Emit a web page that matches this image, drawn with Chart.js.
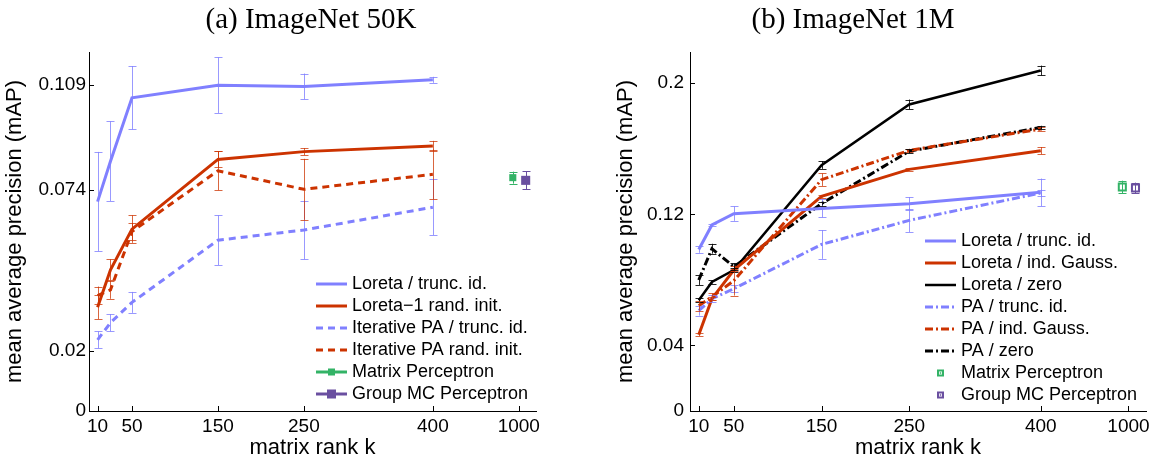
<!DOCTYPE html>
<html><head><meta charset="utf-8">
<script src="https://cdn.jsdelivr.net/npm/chart.js@4/dist/chart.umd.min.js"></script>
<style>
html,body{margin:0;padding:0;background:#fff;}
#wrap{position:relative;width:1154px;height:454px;overflow:hidden;background:#fff;}
canvas{position:absolute;top:0;}
</style></head><body>
<div id="wrap">
<canvas id="c1" width="577" height="454" style="left:0"></canvas>
<canvas id="c2" width="577" height="454" style="left:577px"></canvas>
</div>
<script>
// ---------- shared axis data ----------
const ranks = [10, 25, 50, 150, 250, 400];
const perceptronRank = 1000;
const xTickValues = [10, 50, 150, 250, 400, 1000];
const xTickLabels = ['10', '50', '150', '250', '400', '1000'];

// ---------- (a) ImageNet 50K ----------
const a_yTicks = [0, 0.02, 0.074, 0.109];
const a_yTickLabels = ['0', '0.02', '0.074', '0.109'];
const a_loretaTrunc     = [0.0700, 0.0835, 0.1047, 0.1089, 0.1085, 0.1107];
const a_loretaTruncErr  = [0.0166, 0.0133, 0.0106, 0.0093, 0.0043, 0.0010];
const a_loreta1Rand     = [0.0347, 0.0472, 0.0608, 0.0841, 0.0867, 0.0886];
const a_loreta1RandErr  = [0.0040, 0.0035, 0.0046, 0.0027, 0.0012, 0.0017];
const a_iterPATrunc     = [0.0238, 0.0295, 0.0363, 0.0571, 0.0605, 0.0681];
const a_iterPATruncErr  = [0.0028, 0.0029, 0.0035, 0.0083, 0.0098, 0.0093];
const a_iterPARand      = [0.0386, 0.0405, 0.0600, 0.0803, 0.0741, 0.0791];
const a_iterPARandErr   = [0.0030, 0.0030, 0.0028, 0.0065, 0.0102, 0.0083];
const a_matrixPerc = 0.0780, a_matrixPercErr = 0.0020;
const a_groupPerc  = 0.0771, a_groupPercErr  = 0.0030;

// ---------- (b) ImageNet 1M ----------
const b_yTicks = [0, 0.04, 0.12, 0.2];
const b_yTickLabels = ['0', '0.04', '0.12', '0.2'];
const b_loretaTrunc    = [0.0985, 0.1135, 0.1204, 0.1236, 0.1265, 0.1334];
const b_loretaTruncErr = [0.0020, 0.0008, 0.0044, 0.0055, 0.0040, 0.0084];
const b_loretaGauss    = [0.0465, 0.0685, 0.0860, 0.1309, 0.1474, 0.1588];
const b_loretaGaussErr = [0.0008, 0.0008, 0.0008, 0.0008, 0.0008, 0.0022];
const b_loretaZero     = [0.0675, 0.0787, 0.0860, 0.1500, 0.1870, 0.2077];
const b_loretaZeroErr  = [0.0012, 0.0010, 0.0010, 0.0023, 0.0030, 0.0030];
const b_paTrunc        = [0.0612, 0.0685, 0.0746, 0.1016, 0.1163, 0.1330];
const b_paTruncErr     = [0.0030, 0.0020, 0.0020, 0.0088, 0.0071, 0.0020];
const b_paGauss        = [0.0642, 0.0697, 0.0795, 0.1411, 0.1590, 0.1720];
const b_paGaussErr     = [0.0030, 0.0020, 0.0091, 0.0038, 0.0010, 0.0010];
const b_paZero         = [0.0799, 0.0990, 0.0880, 0.1265, 0.1585, 0.1730];
const b_paZeroErr      = [0.0030, 0.0030, 0.0020, 0.0012, 0.0012, 0.0010];
const b_matrixPerc = 0.1366, b_matrixPercErr = 0.0039;
const b_groupPerc  = 0.1360, b_groupPercErr  = 0.0033;

// ---------- styling / helpers ----------
const SANS = '"Liberation Sans", Arial, Helvetica, sans-serif';
const SERIF = '"Liberation Serif", "Times New Roman", serif';
const BLUE = '#8080ff', RED = '#cc3300', BLACK = '#000000', GREEN = '#33b366', PURPLE = '#6a4fa0';
const BLUE_ERR = 'rgba(128,128,255,0.8)', RED_ERR = 'rgba(204,51,0,0.75)', BLACK_ERR = 'rgba(0,0,0,0.85)';

// the x axis is broken after 400: rank 1000 is drawn at axis position 500
function axisPos(k) { return k <= 400 ? k : 500; }

function series(label, values, errs, style) {
  return Object.assign({
    label, data: ranks.map((k, i) => ({x: axisPos(k), y: values[i]})),
    errors: errs, pointRadius: 0, pointHoverRadius: 0, tension: 0, fill: false
  }, style);
}
function single(label, value, err, dodge, style) {
  return Object.assign({
    label, data: [{x: axisPos(perceptronRank) + dodge, y: value}],
    errors: [err], showLine: false, tension: 0, fill: false
  }, style);
}

const errorBarPlugin = {
  id: 'errorBars',
  afterDatasetsDraw(chart) {
    const ctx = chart.ctx, xs = chart.scales.x, ys = chart.scales.y;
    chart.data.datasets.forEach(ds => {
      if (!ds.errors) return;
      ctx.save();
      ctx.strokeStyle = ds.errorColor || ds.borderColor; ctx.lineWidth = 1; ctx.setLineDash([]);
      ds.data.forEach((p, i) => {
        const e = ds.errors[i]; if (!e) return;
        const x = Math.round(xs.getPixelForValue(p.x)) + 0.5;
        const y1 = ys.getPixelForValue(p.y - e), y2 = ys.getPixelForValue(p.y + e);
        const cw = 4;
        ctx.beginPath();
        ctx.moveTo(x, y1); ctx.lineTo(x, y2);
        ctx.moveTo(x - cw, Math.round(y1) + 0.5); ctx.lineTo(x + cw, Math.round(y1) + 0.5);
        ctx.moveTo(x - cw, Math.round(y2) + 0.5); ctx.lineTo(x + cw, Math.round(y2) + 0.5);
        ctx.stroke();
      });
      ctx.restore();
    });
  }
};

const innerTicksPlugin = {
  id: 'innerTicks',
  afterDraw(chart) {
    const {ctx, chartArea: a, scales: {x, y}} = chart;
    ctx.save(); ctx.strokeStyle = '#000'; ctx.lineWidth = 1; ctx.beginPath();
    y.ticks.forEach(t => { const py = Math.round(y.getPixelForValue(t.value)) + 0.5; ctx.moveTo(a.left, py); ctx.lineTo(a.left + 5, py); });
    x.ticks.forEach(t => { const px = Math.round(x.getPixelForValue(t.value)) + 0.5; ctx.moveTo(px, a.bottom); ctx.lineTo(px, a.bottom - 5); });
    ctx.stroke(); ctx.restore();
  }
};

const panelTitlePlugin = {
  id: 'panelTitle',
  afterDraw(chart, args, opts) {
    const ctx = chart.ctx;
    ctx.save(); ctx.fillStyle = '#000'; ctx.font = opts.size + 'px ' + SERIF;
    ctx.textAlign = 'center'; ctx.textBaseline = 'alphabetic';
    ctx.fillText(opts.text, opts.x, opts.y);
    ctx.restore();
  }
};

function drawSquare(ctx, x, y, side, color, hollow) {
  if (hollow) {
    ctx.fillStyle = '#fff'; ctx.fillRect(x - side / 2, y - side / 2, side, side);
    ctx.strokeStyle = color; ctx.lineWidth = 2; ctx.setLineDash([]);
    ctx.strokeRect(x - side / 2 + 1, y - side / 2 + 1, side - 2, side - 2);
    ctx.fillStyle = color; ctx.fillRect(x - 0.75, y - 0.75, 1.5, 1.5);
  } else {
    ctx.fillStyle = color; ctx.fillRect(x - side / 2, y - side / 2, side, side);
  }
}

const insideLegendPlugin = {
  id: 'insideLegend',
  afterDraw(chart, args, opts) {
    const ctx = chart.ctx;
    ctx.save();
    chart.data.datasets.forEach((ds, i) => {
      const y = opts.y + i * opts.rowH;
      const x0 = opts.x, x1 = opts.x + opts.lineLen;
      if (ds.legendLine !== false) {
        ctx.strokeStyle = ds.borderColor; ctx.lineWidth = ds.borderWidth;
        ctx.setLineDash(ds.borderDash || []);
        ctx.beginPath(); ctx.moveTo(x0, y + 0.5); ctx.lineTo(x1, y + 0.5); ctx.stroke();
        ctx.setLineDash([]);
      }
      if (ds.legendSquare) drawSquare(ctx, (x0 + x1) / 2, y + 0.5, ds.legendSquare, ds.pointBackgroundColor === '#ffffff' ? ds.pointBorderColor : ds.borderColor, ds.pointBackgroundColor === '#ffffff');
      ctx.fillStyle = '#000'; ctx.font = opts.fontSize + 'px ' + SANS;
      ctx.textAlign = 'left'; ctx.textBaseline = 'middle';
      ctx.fillText(ds.label, x1 + opts.textGap, y + 1);
    });
    ctx.restore();
  }
};

function makeOptions(cfg) {
  return {
    responsive: false, animation: false, events: [],
    layout: {padding: {left: 0, right: cfg.padRight, top: 52, bottom: 0}},
    plugins: {
      legend: {display: false}, tooltip: {enabled: false}, title: {display: false},
      panelTitle: {text: cfg.title, x: cfg.titleX, y: 28, size: 29},
      insideLegend: {x: cfg.legX, y: cfg.legY, rowH: 22, lineLen: 31, textGap: 5, fontSize: 18}
    },
    scales: {
      x: {
        type: 'linear', min: 0, max: 520,
        afterBuildTicks: s => { s.ticks = xTickValues.map(v => ({value: axisPos(v)})); },
        afterFit: s => { s.height = 43; },
        ticks: {callback: (v, i) => xTickLabels[i], autoSkip: false, maxRotation: 0, minRotation: 0,
                font: {family: SANS, size: 19}, color: '#000', padding: 4},
        grid: {display: true, drawOnChartArea: false, drawTicks: false},
        border: {display: true, color: '#000', width: 1},
        title: {display: true, text: 'matrix rank k', color: '#000',
                font: {family: SANS, size: 22, lineHeight: 1}, padding: {top: 0, bottom: -5}}
      },
      y: {
        type: 'linear', min: 0, max: cfg.yMax,
        afterBuildTicks: s => { s.ticks = cfg.yTicks.map(v => ({value: v})); },
        afterFit: s => { s.width = cfg.yWidth; },
        ticks: {callback: (v, i) => cfg.yTickLabels[i], autoSkip: false,
                font: {family: SANS, size: 19}, color: '#000', padding: cfg.yTickPad},
        grid: {display: true, drawOnChartArea: false, drawTicks: false},
        border: {display: true, color: '#000', width: 1},
        title: {display: true, text: 'mean average precision (mAP)', color: '#000',
                font: {family: SANS, size: 22, lineHeight: 1}, padding: {top: cfg.yTitlePad, bottom: 0}}
      }
    }
  };
}

const plugins = [errorBarPlugin, innerTicksPlugin, panelTitlePlugin, insideLegendPlugin];

// ---------- chart (a) ----------
new Chart(document.getElementById('c1'), {
  type: 'line',
  data: {datasets: [
    series('Loreta / trunc. id.', a_loretaTrunc, a_loretaTruncErr, {borderColor: BLUE, borderWidth: 3, errorColor: BLUE_ERR}),
    series('Loreta\u22121 rand. init.', a_loreta1Rand, a_loreta1RandErr, {borderColor: RED, borderWidth: 3, errorColor: RED_ERR}),
    series('Iterative PA / trunc. id.', a_iterPATrunc, a_iterPATruncErr, {borderColor: BLUE, borderWidth: 3, borderDash: [7, 5], errorColor: BLUE_ERR}),
    series('Iterative PA rand. init.', a_iterPARand, a_iterPARandErr, {borderColor: RED, borderWidth: 3, borderDash: [7, 5], errorColor: RED_ERR}),
    single('Matrix Perceptron', a_matrixPerc, a_matrixPercErr, -7, {borderColor: GREEN, borderWidth: 3, pointStyle: 'rect', pointRadius: 5, pointBackgroundColor: GREEN, pointBorderColor: GREEN, pointBorderWidth: 0, errorColor: GREEN, legendSquare: 7}),
    single('Group MC Perceptron', a_groupPerc, a_groupPercErr, 8, {borderColor: PURPLE, borderWidth: 3, pointStyle: 'rect', pointRadius: 6.4, pointBackgroundColor: PURPLE, pointBorderColor: PURPLE, pointBorderWidth: 0, errorColor: PURPLE, legendSquare: 9})
  ]},
  options: makeOptions({title: '(a) ImageNet 50K', titleX: 311, padRight: 41, yMax: 0.12, yTicks: a_yTicks, yTickLabels: a_yTickLabels,
    yWidth: 89, yTickPad: 3, yTitlePad: 4, legX: 316, legY: 283.5}),
  plugins
});

// ---------- chart (b) ----------
const DASHDOT = [8, 3, 2, 3];
new Chart(document.getElementById('c2'), {
  type: 'line',
  data: {datasets: [
    series('Loreta / trunc. id.', b_loretaTrunc, b_loretaTruncErr, {borderColor: BLUE, borderWidth: 3, errorColor: BLUE_ERR}),
    series('Loreta / ind. Gauss.', b_loretaGauss, b_loretaGaussErr, {borderColor: RED, borderWidth: 3, errorColor: RED_ERR}),
    series('Loreta / zero', b_loretaZero, b_loretaZeroErr, {borderColor: BLACK, borderWidth: 2.5, errorColor: BLACK_ERR}),
    series('PA / trunc. id.', b_paTrunc, b_paTruncErr, {borderColor: BLUE, borderWidth: 3, borderDash: DASHDOT, errorColor: BLUE_ERR}),
    series('PA / ind. Gauss.', b_paGauss, b_paGaussErr, {borderColor: RED, borderWidth: 3, borderDash: DASHDOT, errorColor: RED_ERR}),
    series('PA / zero', b_paZero, b_paZeroErr, {borderColor: BLACK, borderWidth: 3, borderDash: DASHDOT, errorColor: BLACK_ERR}),
    single('Matrix Perceptron', b_matrixPerc, b_matrixPercErr, -7, {borderColor: GREEN, pointStyle: 'rect', pointRadius: 5, pointBackgroundColor: '#ffffff', pointBorderColor: GREEN, pointBorderWidth: 2, errorColor: GREEN, legendLine: false, legendSquare: 7}),
    single('Group MC Perceptron', b_groupPerc, b_groupPercErr, 8, {borderColor: PURPLE, pointStyle: 'rect', pointRadius: 5, pointBackgroundColor: '#ffffff', pointBorderColor: PURPLE, pointBorderWidth: 2, errorColor: PURPLE, legendLine: false, legendSquare: 7})
  ]},
  options: makeOptions({title: '(b) ImageNet 1M', titleX: 276, padRight: 8, yMax: 0.219, yTicks: b_yTicks, yTickLabels: b_yTickLabels,
    yWidth: 113, yTickPad: 6, yTitlePad: 38, legX: 348, legY: 240.5}),
  plugins
});
</script>
</body></html>
